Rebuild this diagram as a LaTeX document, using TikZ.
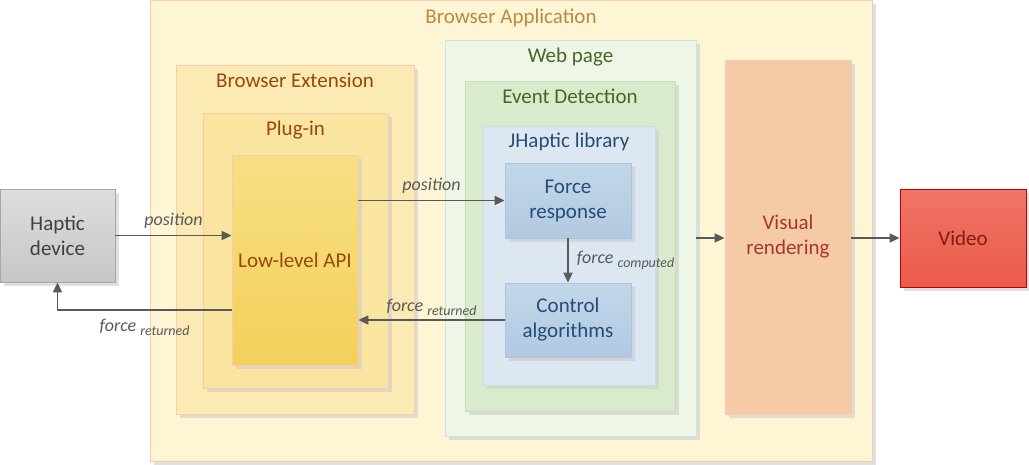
\documentclass[tikz,border=0pt]{standalone}
\usepackage{fontspec}
\setmainfont{Carlito}
\usetikzlibrary{arrows.meta,positioning,shadows}

\definecolor{appfill}{HTML}{FEF5D4}
\definecolor{appline}{HTML}{F8CBAD}
\definecolor{apptext}{HTML}{BE883F}
\definecolor{extfill}{HTML}{FBEAB3}
\definecolor{plugfill}{HTML}{F9E4A0}
\definecolor{apitop}{HTML}{F8DF84}
\definecolor{apibot}{HTML}{F3D05A}
\definecolor{exttext}{HTML}{984807}
\definecolor{webfill}{HTML}{EEF6E7}
\definecolor{webline}{HTML}{C6E9E2}
\definecolor{eventfill}{HTML}{D9EBCC}
\definecolor{eventline}{HTML}{C5E0B4}
\definecolor{webtext}{HTML}{4F6228}
\definecolor{libfill}{HTML}{DCE7F2}
\definecolor{libline}{HTML}{C9DBEE}
\definecolor{libtext}{HTML}{264D78}
\definecolor{blocktop}{HTML}{C3D7EA}
\definecolor{blockbot}{HTML}{B1C9E1}
\definecolor{blockline}{HTML}{A9C4DF}
\definecolor{visfill}{HTML}{F5CBA7}
\definecolor{vistext}{HTML}{A5372D}
\definecolor{videotop}{HTML}{EF7566}
\definecolor{videobot}{HTML}{EB5A4A}
\definecolor{videoline}{HTML}{C00000}
\definecolor{videotext}{HTML}{7B1F14}
\definecolor{haptop}{HTML}{DEDEDE}
\definecolor{hapbot}{HTML}{C6C6C6}
\definecolor{flowgray}{HTML}{595959}

\newcommand{\lowtext}[1]{\raisebox{-4pt}{\fontsize{14}{16}\selectfont #1}}

\begin{document}
\begin{tikzpicture}[x=1pt,y=-1pt,
    box/.style={rectangle,inner sep=0pt,line width=0.8pt,align=center,
        font=\fontsize{21}{25}\selectfont,
        drop shadow={shadow xshift=4pt,shadow yshift=-4pt,fill=black!20,opacity=0.6}},
    title/.style={inner sep=0pt,font=\fontsize{21}{25}\selectfont},
    flow/.style={-{Triangle[length=10pt,width=9pt]},line width=1.7pt,draw=flowgray},
    lbl/.style={font=\fontsize{18}{20}\selectfont\itshape,text=flowgray,inner sep=2pt}]

\useasboundingbox (0,0) rectangle (1029,464);

% Browser application
\node[box,fill=appfill,draw=appline,minimum width=722pt,minimum height=461pt] (app) at (511,230.5) {};
\node[title,text=apptext,below=9pt of app.north] (apptitle) {Browser Application};

% Browser extension and plug-in
\node[box,fill=extfill,draw=appline,minimum width=238pt,minimum height=349pt] (ext) at (295,239.5) {};
\node[title,text=exttext,below=8pt of ext.north] (exttitle) {Browser Extension};
\node[box,fill=plugfill,draw=appline,minimum width=185pt,minimum height=275pt] (plugin) at (295.5,250.5) {};
\node[title,text=exttext,below=8pt of plugin.north] (plugtitle) {Plug-in};
\node[box,top color=apitop,bottom color=apibot,draw=appline,text=exttext,minimum width=126pt,minimum height=210pt] (api) at (295,260) {Low-level API};

% Web page
\node[box,fill=webfill,draw=webline,minimum width=251pt,minimum height=396pt] (web) at (570.5,238) {};
\node[title,text=webtext,below=8pt of web.north] (webtitle) {Web page};
\node[box,fill=eventfill,draw=eventline,minimum width=210pt,minimum height=330pt] (event) at (570,246) {};
\node[title,text=webtext,below=8pt of event.north] (eventtitle) {Event Detection};
\node[box,fill=libfill,draw=libline,minimum width=172pt,minimum height=259pt] (lib) at (569,255.5) {};
\node[title,text=libtext,below=7pt of lib.north] (libtitle) {JHaptic library};
\node[box,top color=blocktop,bottom color=blockbot,draw=blockline,text=libtext,minimum width=126pt,minimum height=75pt] (force) at (568,200.5) {Force\\response};
\node[box,top color=blocktop,bottom color=blockbot,draw=blockline,text=libtext,minimum width=126pt,minimum height=74pt] (control) at (568,320) {Control\\algorithms};

% Visual rendering
\node[box,fill=visfill,draw=appline,text=vistext,minimum width=126pt,minimum height=354pt] (visual) at (788,237) {Visual\\rendering};

% Outside devices
\node[box,top color=haptop,bottom color=hapbot,draw=black!35,text=black!75,minimum width=115pt,minimum height=93pt] (haptic) at (57.5,235.5) {Haptic\\device};
\node[box,top color=videotop,bottom color=videobot,draw=videoline,text=videotext,minimum width=126pt,minimum height=98pt] (video) at (963,238) {Video};

% Arrows
\draw[flow] (haptic.east) -- (haptic.east -| api.west)
    node[lbl,midway,above=4pt] (poslbl) {position};
\draw[flow] ([yshift=-50pt]api.west) -| (haptic.south)
    node[lbl,pos=0.25,below=6pt] (retlbl) {force \lowtext{returned}};
\draw[flow] (force.west -| api.east) -- (force.west)
    node[lbl,midway,above=4pt] (poslbl2) {position};
\draw[flow] (force.south) -- (control.north)
    node[lbl,midway,right=6pt] (complbl) {force \lowtext{computed}};
\draw[flow] (control.west) -- (control.west -| api.east)
    node[lbl,midway,above=2pt] (retlbl2) {force \lowtext{returned}};
\draw[flow] (web.east) -- (web.east -| visual.west);
\draw[flow] (visual.east |- video.west) -- (video.west);

\end{tikzpicture}
\end{document}
